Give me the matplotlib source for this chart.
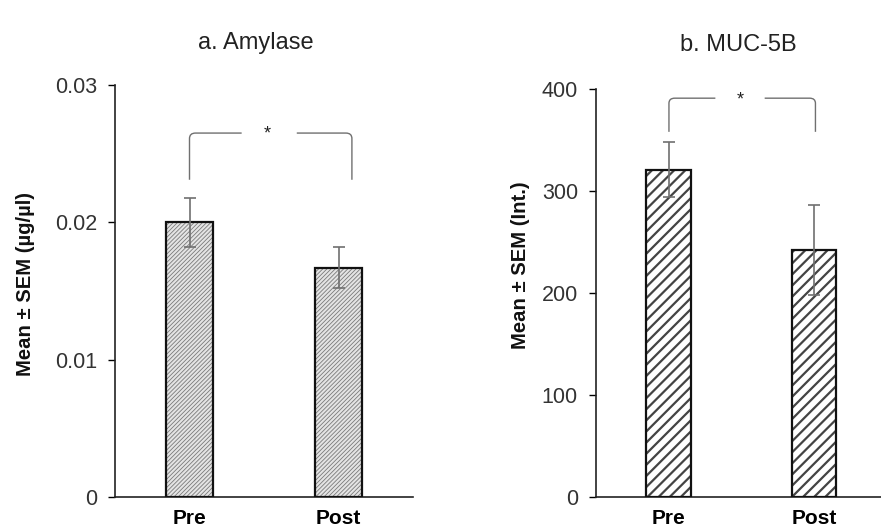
import matplotlib
matplotlib.use("Agg")
import matplotlib.pyplot as plt
from matplotlib.path import Path
from matplotlib.patches import PathPatch

plt.rcParams['font.family'] = ['Liberation Sans', 'DejaVu Sans']

categories = ["Pre", "Post"]
amylase_mean = [0.0200, 0.0167]
amylase_sem = [0.0018, 0.0015]
muc_mean = [321, 242]
muc_sem = [27, 44]
amylase_ticks = [0, 0.01, 0.02, 0.03]
amylase_ticklabels = ["0", "0.01", "0.02", "0.03"]
muc_ticks = [0, 100, 200, 300, 400]
muc_ticklabels = ["0", "100", "200", "300", "400"]

W, H = 881, 532
fig = plt.figure(figsize=(W / 100, H / 100), dpi=100)

def fx(px):
    return px / W

def fy(py):
    return 1 - py / H

ax1 = fig.add_axes([fx(115), fy(497), fx(413) - fx(115), fy(85) - fy(497)])
ax2 = fig.add_axes([fx(596), fy(497), fx(881) - fx(596), fy(89) - fy(497)])

def bracket(ax, x0, x1, ytop, ybot, gap0, gap1, rx, ry, star_x, star_y):
    col = '#707070'
    verts = [(x0, ybot), (x0, ytop - ry), (x0, ytop), (x0 + rx, ytop), (gap0, ytop)]
    codes = [Path.MOVETO, Path.LINETO, Path.CURVE3, Path.CURVE3, Path.LINETO]
    ax.add_patch(PathPatch(Path(verts, codes), fill=False, edgecolor=col, lw=1.0, clip_on=False))
    verts = [(gap1, ytop), (x1 - rx, ytop), (x1, ytop), (x1, ytop - ry), (x1, ybot)]
    codes = [Path.MOVETO, Path.LINETO, Path.CURVE3, Path.CURVE3, Path.LINETO]
    ax.add_patch(PathPatch(Path(verts, codes), fill=False, edgecolor=col, lw=1.0, clip_on=False))
    ax.text(star_x, star_y, "*", ha='center', va='center', fontsize=13, color='#222222')

def style(ax, ticks, ticklabels, ylim, xlim):
    x = list(range(len(categories)))
    ax.set_xlim(*xlim)
    ax.set_ylim(*ylim)
    ax.set_yticks(ticks)
    ax.set_yticklabels(ticklabels)
    ax.set_xticks(x)
    ax.set_xticklabels(categories, fontweight='bold', fontsize=15)
    ax.tick_params(axis='x', length=0, pad=9, colors='black')
    ax.tick_params(axis='y', length=5, width=1, pad=8, labelsize=15.5, labelcolor='#333333')
    for s in ['top', 'right']:
        ax.spines[s].set_visible(False)
    for s in ['left', 'bottom']:
        ax.spines[s].set_linewidth(1.2)
        ax.spines[s].set_color('#222222')

def draw_bars(ax, means, sems, face, hatch, hatchcol, hatchlw):
    x = list(range(len(categories)))
    bars = ax.bar(x, means, width=0.31, color=face, edgecolor=hatchcol, hatch=hatch, linewidth=0, zorder=2)
    for b in bars:
        try:
            b.set_hatch_linewidth(hatchlw)
        except Exception:
            pass
    ax.bar(x, means, width=0.31, fill=False, edgecolor='#111111', linewidth=1.6, zorder=3)
    ax.errorbar(x, means, yerr=sems, fmt='none', ecolor='#707070', elinewidth=1.2,
                capsize=4, capthick=1.2, zorder=4)

# Panel a
draw_bars(ax1, amylase_mean, amylase_sem, '#e4e4e4', '////////', '#7a7a7a', 0.6)
style(ax1, amylase_ticks, amylase_ticklabels, (0, 0.03), (-0.5, 1.5))
bracket(ax1, 0.0, 1.09, 0.0265, 0.0231, 0.35, 0.72, 0.04, 0.0004, 0.52, 0.0264)

# Panel b
draw_bars(ax2, muc_mean, muc_sem, 'white', '///', '#444444', 1.6)
style(ax2, muc_ticks, muc_ticklabels, (0, 400), (-0.503, 1.462))
bracket(ax2, 0.0, 1.01, 391, 358, 0.32, 0.66, 0.04, 5, 0.49, 389)

fig.text(fx(26), fy(284), "Mean ± SEM (µg/µl)", rotation=90, ha='center', va='center',
         fontsize=14.6, fontweight='bold', color='#111111')
fig.text(fx(520), fy(265), "Mean ± SEM (Int.)", rotation=90, ha='center', va='center',
         fontsize=14.6, fontweight='bold', color='#111111')

fig.text(fx(256), fy(43), "a. Amylase", ha='center', va='center', fontsize=17, color='#222222')
fig.text(fx(738), fy(45), "b. MUC-5B", ha='center', va='center', fontsize=17, color='#222222')

fig.savefig("out.png", dpi=100, facecolor='white')
